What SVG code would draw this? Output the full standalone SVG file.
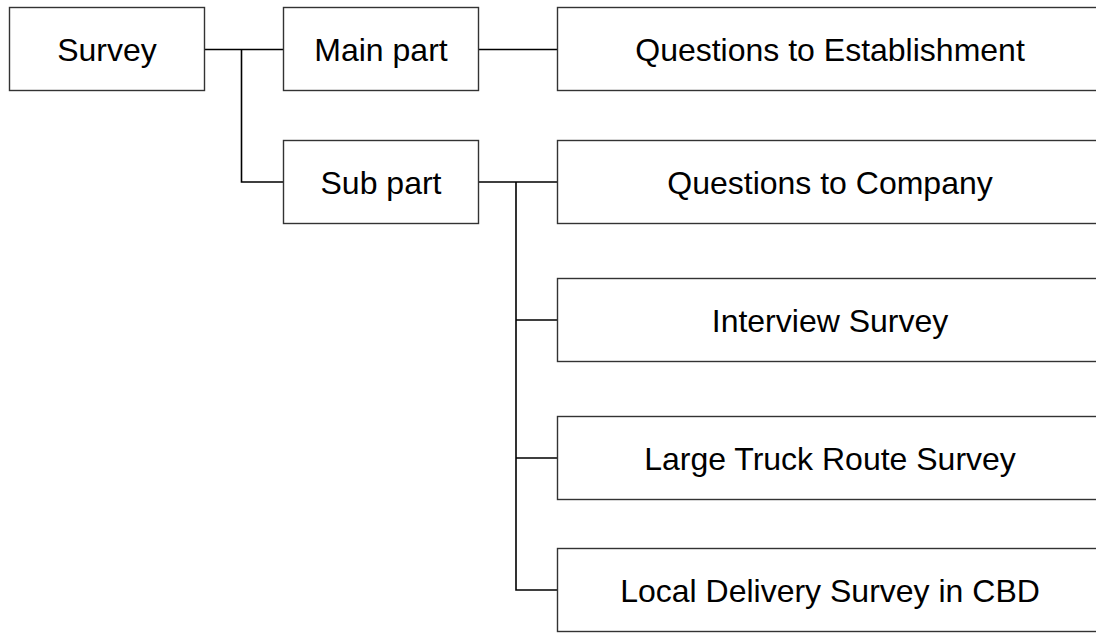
<svg xmlns="http://www.w3.org/2000/svg" width="1096" height="633" viewBox="0 0 1096 633">
<style>
.box{fill:#fff;stroke:#333;stroke-width:1.4}
.lbl{font-family:"Liberation Sans",Arial,sans-serif;font-size:32px;fill:#000;text-anchor:middle}
.conn{fill:none;stroke:#000;stroke-width:1.6}
</style>
<rect width="1096" height="633" fill="#fff"/>
<g id="connectors">
<path class="conn" d="M204.5,49.5 H283.5 M241.5,49.5 V182 H283.5"/>
<path class="conn" d="M478.5,49.5 H557.5"/>
<path class="conn" d="M478.5,182 H557.5 M516,182 V590 H557.5 M516,320 H557.5 M516,458 H557.5"/>
</g>
<g id="survey"><rect class="box" x="9.5" y="7.5" width="195" height="83"/><text class="lbl" x="107" y="61">Survey</text></g>
<g id="main-part"><rect class="box" x="283.5" y="7.5" width="195" height="83"/><text class="lbl" x="381" y="61">Main part</text></g>
<g id="sub-part"><rect class="box" x="283.5" y="140.5" width="195" height="83"/><text class="lbl" x="381" y="193.5">Sub part</text></g>
<g id="q-establishment"><rect class="box" x="557.5" y="7.5" width="545" height="83"/><text class="lbl" x="830" y="61">Questions to Establishment</text></g>
<g id="q-company"><rect class="box" x="557.5" y="140.5" width="545" height="83"/><text class="lbl" x="830" y="193.5">Questions to Company</text></g>
<g id="interview"><rect class="box" x="557.5" y="278.5" width="545" height="83"/><text class="lbl" x="830" y="331.5">Interview Survey</text></g>
<g id="truck"><rect class="box" x="557.5" y="416.5" width="545" height="83"/><text class="lbl" x="830" y="469.5">Large Truck Route Survey</text></g>
<g id="local"><rect class="box" x="557.5" y="548.5" width="545" height="83"/><text class="lbl" x="830" y="601.5">Local Delivery Survey in CBD</text></g>
</svg>
